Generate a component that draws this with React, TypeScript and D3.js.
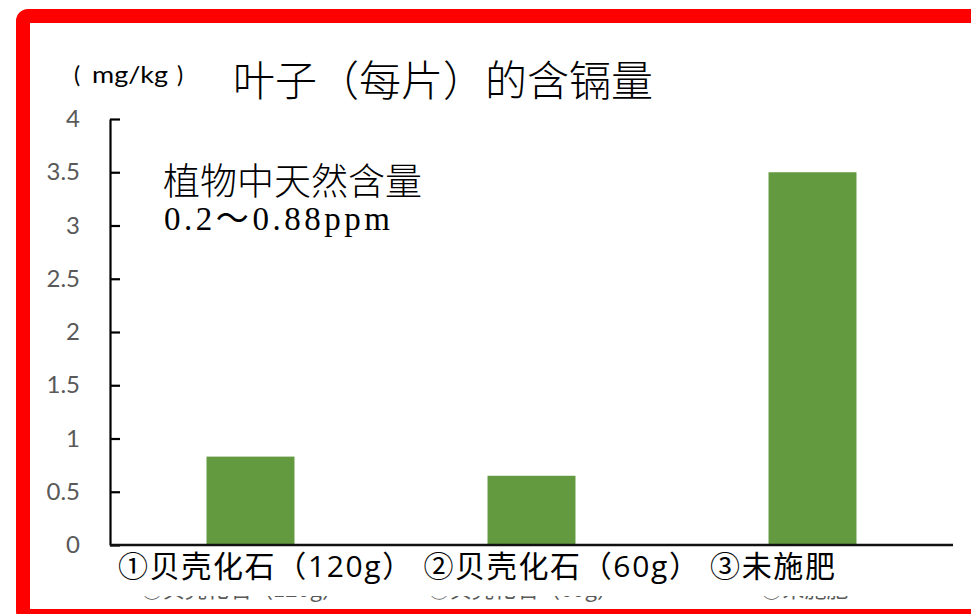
import React, { useEffect, useRef } from "react";
import * as d3 from "d3";

// Cadmium content per leaf, by fertiliser treatment (mg/kg)
const categories = ["①贝壳化石（120g）", "②贝壳化石（60g）", "③未施肥"];
const cadmium = [0.83, 0.65, 3.5];
const yTicks = [0, 0.5, 1, 1.5, 2, 2.5, 3, 3.5, 4];
const titleText = "叶子（每片）的含镉量";
const unitParts = ["(", "mg/kg", ")"];
const noteLines = ["植物中天然含量", "0.2～0.88ppm"];

const W = 971;
const H = 614;
const CJK = "'Noto Sans CJK SC', 'Noto Sans', sans-serif";

export default function App() {
  const ref = useRef<SVGSVGElement | null>(null);

  useEffect(() => {
    const svg = d3.select(ref.current);
    svg.selectAll("*").remove();

    const left = 110;
    const right = 953;
    const top = 119;
    const bottom = 545;

    const x = d3
      .scaleBand<string>()
      .domain(categories)
      .range([left, right])
      .paddingInner(0.687)
      .paddingOuter(0.3435);
    const y = d3.scaleLinear().domain([0, 4]).range([bottom, top]);

    svg.append("rect").attr("width", W).attr("height", H).attr("fill", "#fff");

    // category axis (labels sit low, mostly hidden under the caption strip)
    const xAxis = svg
      .append("g")
      .attr("transform", `translate(0,${bottom})`)
      .call(d3.axisBottom(x).tickSize(0).tickPadding(0));
    xAxis.select(".domain").remove();
    xAxis
      .selectAll("text")
      .attr("dy", 0)
      .attr("y", 52)
      .attr("dx", -8)
      .attr("fill", "#595959")
      .style("font-family", CJK)
      .style("font-size", "22px");

    // bars
    svg
      .append("g")
      .selectAll("rect")
      .data(categories.map((c, i) => ({ c, v: cadmium[i] })))
      .join("rect")
      .attr("x", (d) => x(d.c) as number)
      .attr("width", x.bandwidth())
      .attr("y", (d) => y(d.v))
      .attr("height", (d) => y(0) - y(d.v))
      .attr("fill", "#639a3f");

    // caption strip over the category labels
    svg
      .append("rect")
      .attr("x", left - 2)
      .attr("y", bottom + 2)
      .attr("width", 860)
      .attr("height", 49)
      .attr("fill", "#fff");
    svg
      .append("text")
      .attr("x", left + 8)
      .attr("y", 577)
      .attr("fill", "#000")
      .attr("textLength", 717)
      .attr("lengthAdjust", "spacing")
      .style("font-family", `'Open Sans', ${CJK}`)
      .style("font-size", "30px")
      .text(categories.join(" "));

    // value axis
    const yAxis = svg
      .append("g")
      .attr("transform", `translate(${left},0)`)
      .call(
        d3
          .axisLeft(y)
          .tickValues(yTicks)
          .tickSizeInner(-10)
          .tickSizeOuter(0)
          .tickPadding(30)
          .tickFormat((d) => String(d))
      );
    yAxis.select(".domain").attr("stroke", "#000").attr("stroke-width", 2.2);
    yAxis.selectAll(".tick line").attr("stroke", "#000").attr("stroke-width", 2.2);
    yAxis
      .selectAll(".tick text")
      .attr("fill", "#595959")
      .style("font-family", "Lato, 'Open Sans', sans-serif")
      .style("font-size", "24px");

    // baseline
    svg
      .append("line")
      .attr("x1", left)
      .attr("x2", right)
      .attr("y1", y(0))
      .attr("y2", y(0))
      .attr("stroke", "#111")
      .attr("stroke-width", 2.4);

    // title and unit
    svg
      .append("text")
      .attr("x", 233)
      .attr("y", 96)
      .attr("fill", "#000")
      .style("font-family", CJK)
      .style("font-size", "42px")
      .style("font-weight", 300)
      .text(titleText);
    const unit = svg
      .append("text")
      .attr("y", 83)
      .attr("fill", "#000")
      .style("font-family", "Lato, 'Open Sans', sans-serif")
      .style("font-size", "23px");
    unit.append("tspan").attr("x", 74).text(unitParts[0]);
    unit
      .append("tspan")
      .attr("x", 92)
      .attr("textLength", 76)
      .attr("lengthAdjust", "spacingAndGlyphs")
      .text(unitParts[1]);
    unit.append("tspan").attr("x", 177).text(unitParts[2]);

    // natural background level note
    svg
      .append("text")
      .attr("x", 163)
      .attr("y", 195)
      .attr("fill", "#000")
      .style("font-family", CJK)
      .style("font-size", "37px")
      .style("font-weight", 300)
      .text(noteLines[0]);
    svg
      .append("text")
      .attr("x", 164)
      .attr("y", 230)
      .attr("fill", "#000")
      .attr("textLength", 226)
      .attr("lengthAdjust", "spacing")
      .style("font-family", `'Liberation Serif', ${CJK}`)
      .style("font-size", "33px")
      .text(noteLines[1]);

    // red frame
    svg
      .append("rect")
      .attr("x", 23)
      .attr("y", 16)
      .attr("width", 1000)
      .attr("height", 600)
      .attr("rx", 5)
      .attr("fill", "none")
      .attr("stroke", "#ff0000")
      .attr("stroke-width", 14);
  }, []);

  return (
    <svg
      ref={ref}
      width={W}
      height={H}
      style={{ position: "absolute", left: 0, top: 0, display: "block" }}
    />
  );
}
